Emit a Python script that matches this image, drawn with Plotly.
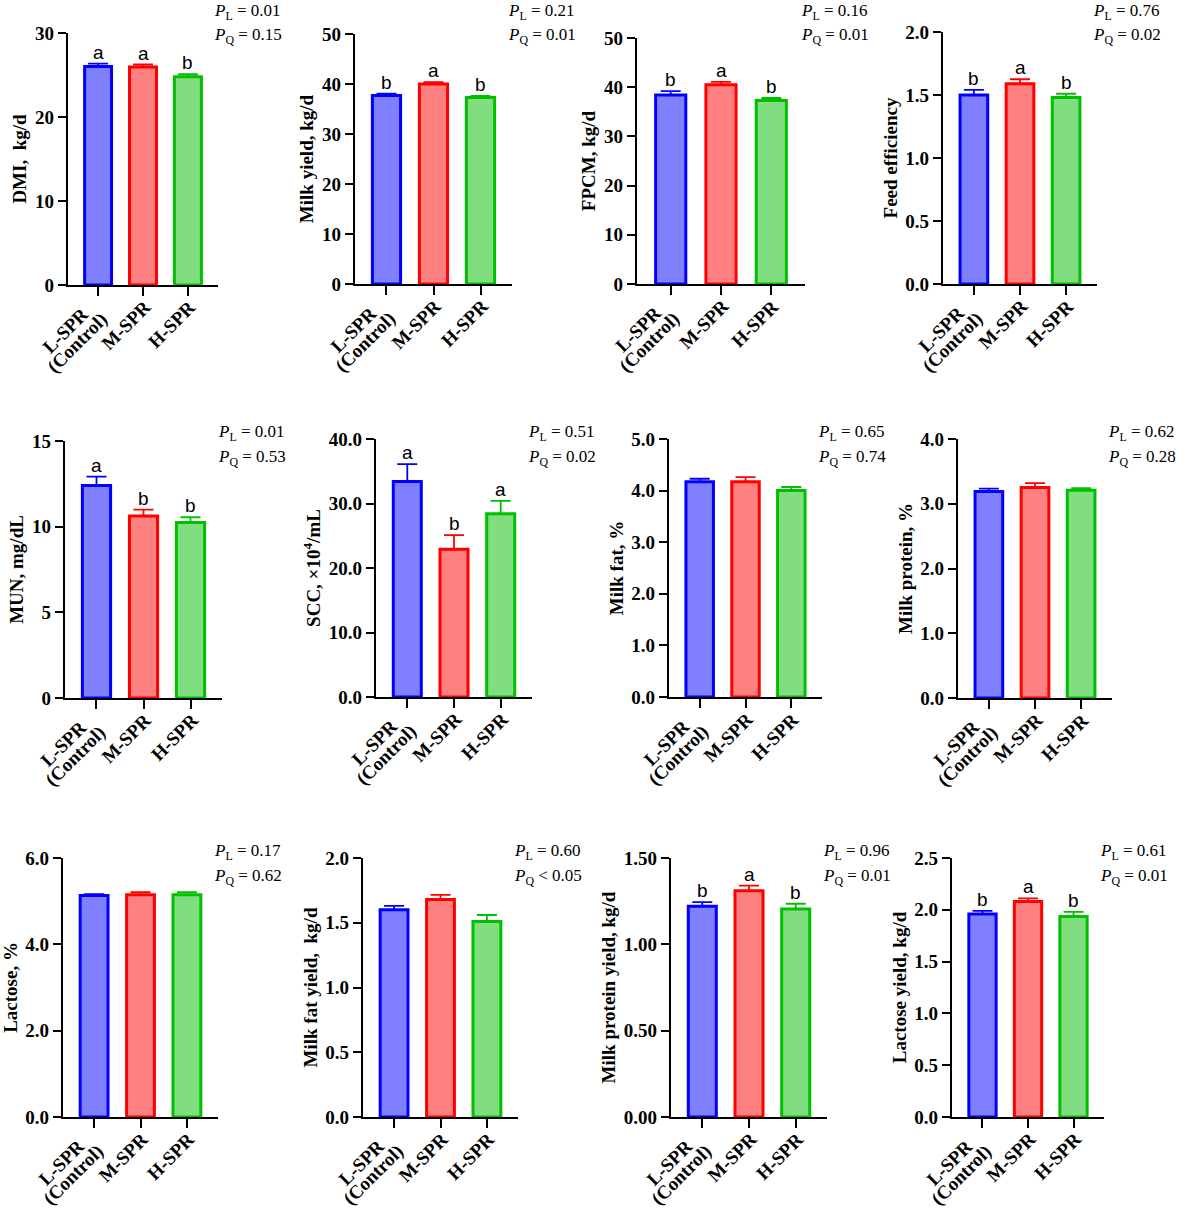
import plotly.graph_objects as go

# ---------------- data ----------------
groups = ["L-SPR (Control)", "M-SPR", "H-SPR"]
group_lines = [["L-SPR", "(Control)"], ["M-SPR"], ["H-SPR"]]

dmi = [26.0, 25.95, 24.8]
dmi_se = [0.35, 0.3, 0.3]
dmi_letters = ["a", "a", "b"]

milk_yield = [37.7, 40.0, 37.3]
milk_yield_se = [0.35, 0.35, 0.3]
milk_yield_letters = ["b", "a", "b"]

fpcm = [38.4, 40.5, 37.3]
fpcm_se = [0.8, 0.6, 0.5]
fpcm_letters = ["b", "a", "b"]

feed_eff = [1.50, 1.59, 1.48]
feed_eff_se = [0.04, 0.035, 0.03]
feed_eff_letters = ["b", "a", "b"]

mun = [12.4, 10.62, 10.25]
mun_se = [0.52, 0.37, 0.3]
mun_letters = ["a", "b", "b"]

scc = [33.4, 22.9, 28.4]
scc_se = [2.7, 2.2, 2.0]
scc_letters = ["a", "b", "a"]

milk_fat = [4.17, 4.17, 4.0]
milk_fat_se = [0.06, 0.09, 0.07]

milk_protein = [3.19, 3.25, 3.21]
milk_protein_se = [0.045, 0.07, 0.03]

lactose = [5.13, 5.15, 5.15]
lactose_se = [0.03, 0.06, 0.06]

milk_fat_yield = [1.60, 1.68, 1.51]
milk_fat_yield_se = [0.03, 0.035, 0.05]

milk_protein_yield = [1.22, 1.31, 1.205]
milk_protein_yield_se = [0.025, 0.03, 0.03]
milk_protein_yield_letters = ["b", "a", "b"]

lactose_yield = [1.96, 2.08, 1.935]
lactose_yield_se = [0.03, 0.03, 0.045]
lactose_yield_letters = ["b", "a", "b"]

p_linear = ["0.01", "0.21", "0.16", "0.76", "0.01", "0.51", "0.65", "0.62",
            "0.17", "0.60", "0.96", "0.61"]
p_quadratic = ["= 0.15", "= 0.01", "= 0.01", "= 0.02", "= 0.53", "= 0.02", "= 0.74",
               "= 0.28", "= 0.62", "< 0.05", "= 0.01", "= 0.01"]

y_titles = ["DMI,&nbsp; kg/d", "Milk yield, kg/d", "FPCM, kg/d", "Feed efficiency",
            "MUN, mg/dL", "SCC, ×10<sup>4</sup>/mL", "Milk fat, %", "Milk protein, %",
            "Lactose, %", "Milk fat yield,&nbsp; kg/d", "Milk protein yield, kg/d",
            "Lactose yield, kg/d"]

# y-axis scales: (max, step, format)
y_scales = [(30, 10, "d"), (50, 10, "d"), (50, 10, "d"), (2.0, 0.5, ".1f"),
            (15, 5, "d"), (40, 10, ".1f"), (5, 1, ".1f"), (4, 1, ".1f"),
            (6, 2, ".1f"), (2.0, 0.5, ".1f"), (1.5, 0.5, ".2f"), (2.5, 0.5, ".1f")]

values = [dmi, milk_yield, fpcm, feed_eff, mun, scc, milk_fat, milk_protein,
          lactose, milk_fat_yield, milk_protein_yield, lactose_yield]
errors = [dmi_se, milk_yield_se, fpcm_se, feed_eff_se, mun_se, scc_se, milk_fat_se,
          milk_protein_se, lactose_se, milk_fat_yield_se, milk_protein_yield_se,
          lactose_yield_se]
letters = [dmi_letters, milk_yield_letters, fpcm_letters, feed_eff_letters,
           mun_letters, scc_letters, None, None, None, None,
           milk_protein_yield_letters, lactose_yield_letters]

# ---------------- layout (pixel boxes: left, right, top, bottom) ----------------
W, H = 1200, 1208
boxes = [(68, 218, 33, 285), (355, 512, 34, 284), (637, 805, 38, 284), (943, 1097, 32, 284),
         (65, 222, 441, 698), (376, 532, 439, 697), (669, 822, 439, 697), (958, 1112, 439, 698),
         (63, 218, 858, 1117), (363, 518, 858, 1117), (671, 827, 858, 1117), (952, 1104, 858, 1117)]
p_rows = [(12, 36), (433, 458), (852, 877)]

# category label placement (top-right corner of rotated text box, px from tick / axis)
label_offsets = [[(-3, 16), (17, 21)], [(14, 9)], [(14, 9)]]

fills = ["#8080FF", "#FF8080", "#80DE80"]
edges = ["#0000FF", "#FF0000", "#00C000"]
SERIF = "Liberation Serif, Times New Roman, serif"
SANS = "Liberation Sans, Arial, sans-serif"
TICK_FONT = dict(family=SERIF, size=19, color="black", weight="bold")

fig = go.Figure()
annotations = []
for i in range(12):
    n = i + 1
    sx = "" if n == 1 else str(n)
    xa, ya = "x" + sx, "y" + sx
    vals, se = values[i], errors[i]
    for j in range(3):
        fig.add_trace(go.Bar(
            x=[groups[j]], y=[vals[j]], width=0.6,
            marker=dict(color=fills[j], line=dict(color=edges[j], width=3)),
            error_y=dict(type="data", symmetric=False, array=[se[j]], arrayminus=[0],
                         color=edges[j], thickness=1.8, width=10),
            xaxis=xa, yaxis=ya, showlegend=False, hoverinfo="skip"))
        if letters[i]:
            annotations.append(dict(
                x=groups[j], y=vals[j] + se[j], xref=xa, yref=ya, text=letters[i][j],
                showarrow=False, yanchor="bottom", yshift=-1,
                font=dict(family=SANS, size=19, color="black")))
        for line, (dx, dy) in zip(group_lines[j], label_offsets[j]):
            annotations.append(dict(
                x=groups[j], y=0, xref=xa, yref=ya, text=line, textangle=-45,
                xanchor="right", yanchor="top", xshift=dx, yshift=-dy,
                showarrow=False, font=TICK_FONT))
    l, r, t, b = boxes[i]
    ymax, step, fmt = y_scales[i]
    tickvals = [k * step for k in range(int(round(ymax / step)) + 1)]
    if fmt == "d":
        ticktext = [str(int(v)) for v in tickvals]
    else:
        ticktext = [format(v, fmt) for v in tickvals]
    fig.layout["xaxis" + sx] = dict(
        domain=[l / W, r / W], anchor=ya, range=[-0.67, 2.67], type="category",
        categoryorder="array", categoryarray=groups,
        showline=True, linecolor="black", linewidth=2.2, ticks="outside",
        ticklen=9, tickwidth=2, tickcolor="black", showticklabels=False,
        showgrid=False, zeroline=False, fixedrange=True, automargin=False)
    fig.layout["yaxis" + sx] = dict(
        domain=[1 - b / H, 1 - t / H], anchor=xa, range=[0, ymax],
        tickvals=tickvals, ticktext=ticktext,
        showline=True, linecolor="black", linewidth=2.2, ticks="outside",
        ticklen=8, tickwidth=2, tickcolor="black", tickfont=TICK_FONT,
        title=dict(text=y_titles[i], standoff=3,
                   font=dict(family=SERIF, size=19, color="black", weight="bold")),
        showgrid=False, zeroline=False, fixedrange=True, automargin=False)
    row = i // 4
    yl, yq = p_rows[row]
    annotations.append(dict(
        x=(r - 6) / W, y=1 - yl / H, xref="paper", yref="paper", xanchor="left",
        yanchor="middle", showarrow=False,
        text="<i>P</i><sub>L</sub> = " + p_linear[i],
        font=dict(family=SERIF, size=17, color="black")))
    annotations.append(dict(
        x=(r - 6) / W, y=1 - yq / H, xref="paper", yref="paper", xanchor="left",
        yanchor="middle", showarrow=False,
        text="<i>P</i><sub>Q</sub> " + p_quadratic[i],
        font=dict(family=SERIF, size=17, color="black")))

fig.update_layout(
    width=W, height=H, margin=dict(l=0, r=0, t=0, b=0, pad=0, autoexpand=False),
    paper_bgcolor="white", plot_bgcolor="white", barmode="overlay",
    annotations=annotations, showlegend=False)

fig.write_html(
    "out.html",
    config={"displayModeBar": False, "staticPlot": True},
    post_script="document.body.style.margin='0';document.body.style.overflow='hidden';")
